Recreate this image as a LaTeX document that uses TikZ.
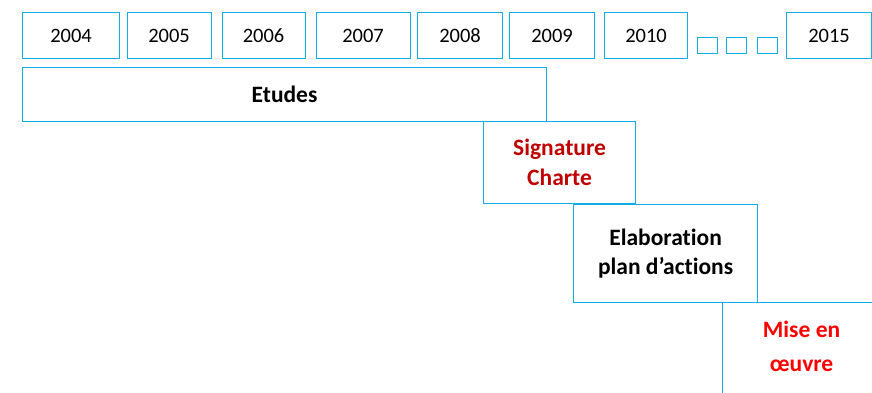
\documentclass[tikz,border=0pt]{standalone}
\usepackage{fontspec}
\setmainfont[Ligatures=NoCommon]{Carlito}
\definecolor{lineblue}{RGB}{20,172,230}
\definecolor{darkred}{RGB}{192,0,0}
\definecolor{brightred}{RGB}{255,0,0}
\tikzset{
  boxline/.style={draw=lineblue, line width=1.1pt},
  box/.style={boxline, inner sep=0pt, anchor=north west, align=center},
  yearbox/.style={box, minimum height=46pt, font=\fontsize{20.5}{24}\selectfont},
  smallbox/.style={box, minimum width=20pt, minimum height=16pt},
  phase/.style={box, font=\fontsize{23.5}{29.5}\selectfont\bfseries}
}
\begin{document}
\begin{tikzpicture}[x=1pt,y=-1pt]
\useasboundingbox (0,0) rectangle (872,392);
\clip (0,0) rectangle (872,392);
\node[yearbox, minimum width=97pt] (y2004) at (22,12) {2004};
\node[yearbox, minimum width=84pt] (y2005) at (126.5,12) {2005};
\node[yearbox, minimum width=83pt] (y2006) at (221.5,12) {2006};
\node[yearbox, minimum width=94pt] (y2007) at (315.5,12) {2007};
\node[yearbox, minimum width=85pt] (y2008) at (417,12) {2008};
\node[yearbox, minimum width=85pt] (y2009) at (509,12) {2009};
\node[yearbox, minimum width=83pt] (y2010) at (604,12) {2010};
\node[smallbox] (d1) at (697,37) {};
\node[smallbox] (d2) at (726,37) {};
\node[smallbox] (d3) at (757,37) {};
\node[yearbox, minimum width=85pt] (y2015) at (786,12) {2015};
\node[phase, minimum width=524pt, minimum height=54pt] (etudes) at (22,67) {Etudes};
\node[phase, minimum width=152pt, minimum height=82pt, text=darkred] (charte) at (483,121) {Signature\\Charte};
\node[phase, minimum width=184pt, minimum height=98pt] (plan) at (573,204) {Elaboration\\plan d’actions};
\node[phase, draw=none, outer sep=0pt, minimum width=158pt, minimum height=87pt, text=brightred] (mise) at (722.55,302.55) {Mise en\\[4.5pt]œuvre};
\draw[boxline] ([yshift=-20pt]mise.south west) -- (mise.north west) -- ([xshift=20pt]mise.north east);
\end{tikzpicture}
\end{document}
